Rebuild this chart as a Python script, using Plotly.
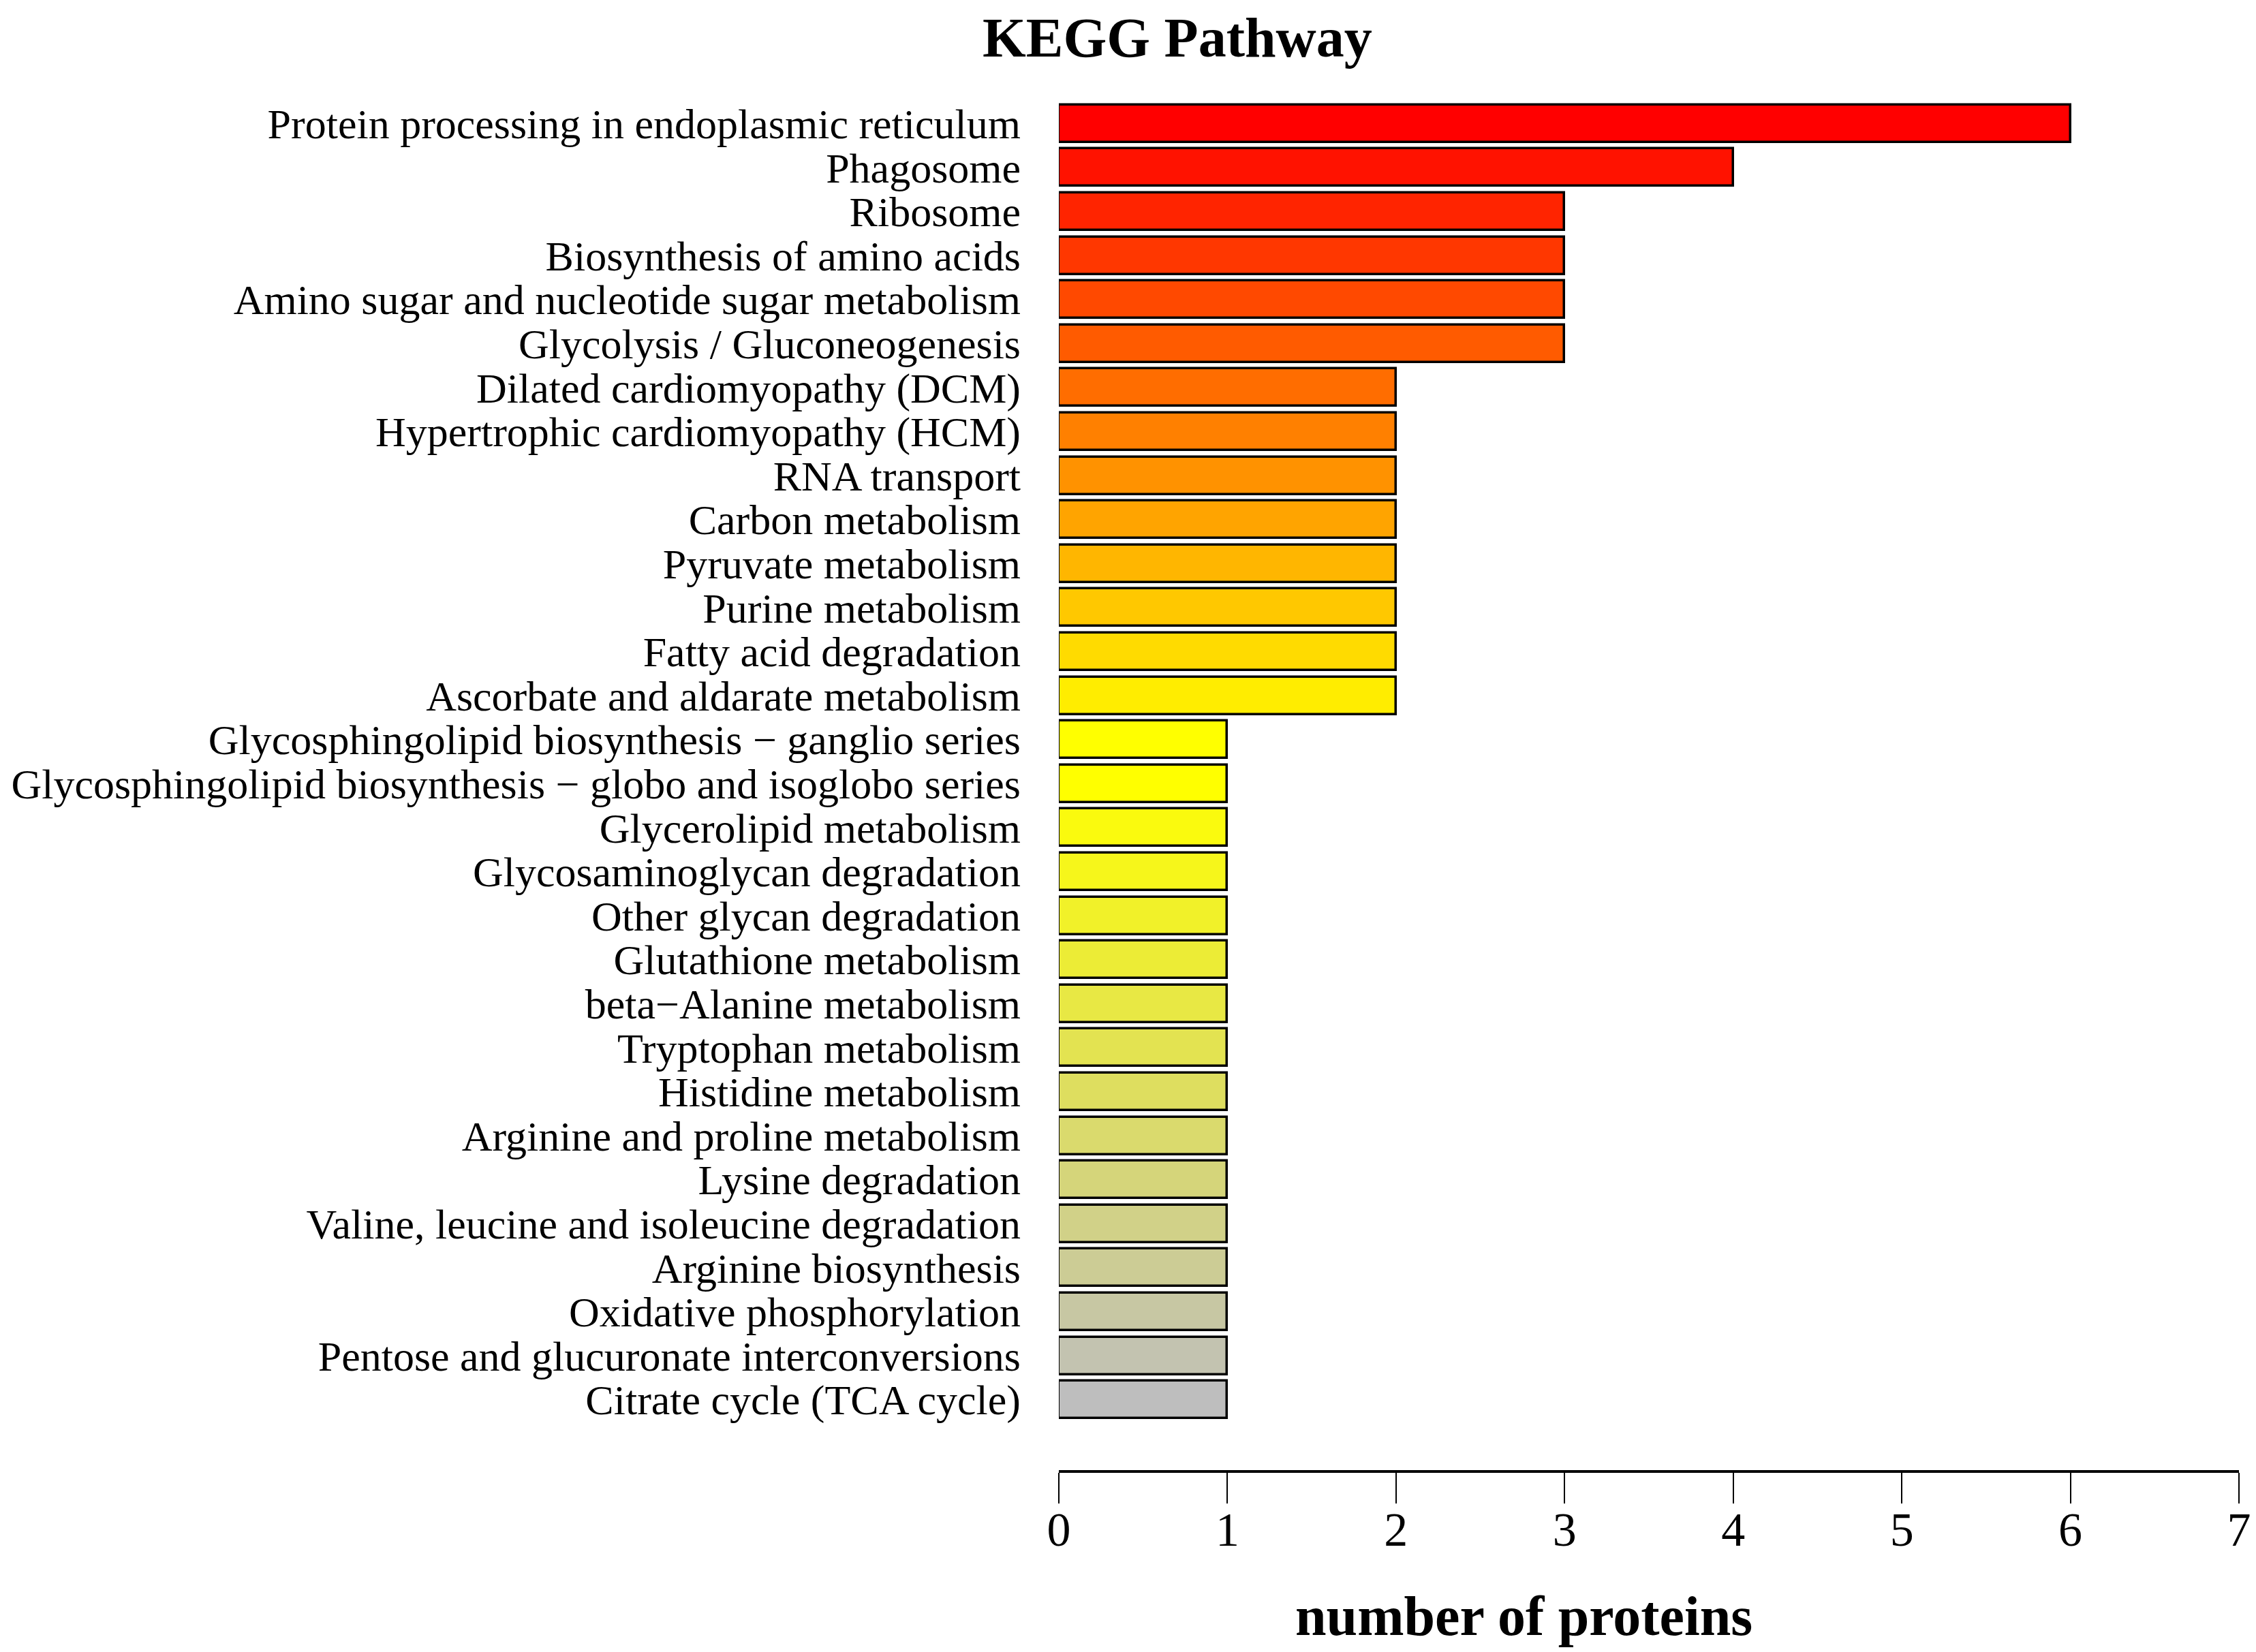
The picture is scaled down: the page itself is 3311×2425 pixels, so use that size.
import plotly.graph_objects as go

# KEGG pathway counts, top to bottom as in the figure
pathways = [
    "Protein processing in endoplasmic reticulum",
    "Phagosome",
    "Ribosome",
    "Biosynthesis of amino acids",
    "Amino sugar and nucleotide sugar metabolism",
    "Glycolysis / Gluconeogenesis",
    "Dilated cardiomyopathy (DCM)",
    "Hypertrophic cardiomyopathy (HCM)",
    "RNA transport",
    "Carbon metabolism",
    "Pyruvate metabolism",
    "Purine metabolism",
    "Fatty acid degradation",
    "Ascorbate and aldarate metabolism",
    "Glycosphingolipid biosynthesis \u2212 ganglio series",
    "Glycosphingolipid biosynthesis \u2212 globo and isoglobo series",
    "Glycerolipid metabolism",
    "Glycosaminoglycan degradation",
    "Other glycan degradation",
    "Glutathione metabolism",
    "beta\u2212Alanine metabolism",
    "Tryptophan metabolism",
    "Histidine metabolism",
    "Arginine and proline metabolism",
    "Lysine degradation",
    "Valine, leucine and isoleucine degradation",
    "Arginine biosynthesis",
    "Oxidative phosphorylation",
    "Pentose and glucuronate interconversions",
    "Citrate cycle (TCA cycle)",
]
n_proteins = [6, 4, 3, 3, 3, 3, 2, 2, 2, 2, 2, 2, 2, 2,
              1, 1, 1, 1, 1, 1, 1, 1, 1, 1, 1, 1, 1, 1, 1, 1]
x_ticks = [0, 1, 2, 3, 4, 5, 6, 7]


def ramp(c0, c1, k):
    # linear colour ramp like R's colorRampPalette
    out = []
    for i in range(k):
        t = i / (k - 1)
        rgb = [round(a + (b - a) * t) for a, b in zip(c0, c1)]
        out.append("rgb(%d,%d,%d)" % tuple(rgb))
    return out


half = len(pathways) // 2
colors = ramp((255, 0, 0), (255, 255, 0), half) + ramp((255, 255, 0), (190, 190, 190), len(pathways) - half)

FONT = "Liberation Serif"

fig = go.Figure()
fig.add_trace(
    go.Bar(
        x=n_proteins,
        y=pathways,
        orientation="h",
        width=0.85,
        marker=dict(color=colors, line=dict(color="black", width=3.5)),
        showlegend=False,
    )
)

fig.update_xaxes(
    range=[0, 7],
    tickvals=x_ticks,
    showline=True,
    linecolor="black",
    linewidth=4,
    ticks="outside",
    ticklen=45,
    tickwidth=2,
    tickcolor="black",
    showgrid=False,
    zeroline=False,
    automargin=False,
    tickfont=dict(family=FONT, size=70, color="black"),
    ticklabelstandoff=-22,
)
fig.update_yaxes(
    type="category",
    range=[30.6, -0.5],
    tickmode="array",
    tickvals=pathways,
    ticktext=pathways,
    showline=False,
    showgrid=False,
    zeroline=False,
    automargin=False,
    ticks="",
    tickfont=dict(family=FONT, size=62, color="black"),
    ticklabelstandoff=55,
)

fig.add_annotation(
    text="<b>KEGG Pathway</b>", xref="paper", yref="paper",
    x=0.1005, y=1.0702, xanchor="center", yanchor="top", showarrow=False,
    font=dict(family=FONT, size=82, color="black"),
)
fig.add_annotation(
    text="<b>number of proteins</b>", xref="paper", yref="paper",
    x=0.394, y=-0.107, xanchor="center", yanchor="middle", showarrow=False,
    font=dict(family=FONT, size=82, color="black"),
)

# the page body adds an 8px offset, so the figure is 8px smaller each way
fig.update_layout(
    width=3303,
    height=2417,
    margin=dict(l=1546, r=25, t=141, b=267),
    plot_bgcolor="white",
    paper_bgcolor="white",
    bargap=0,
)
fig.write_html("out.html")
